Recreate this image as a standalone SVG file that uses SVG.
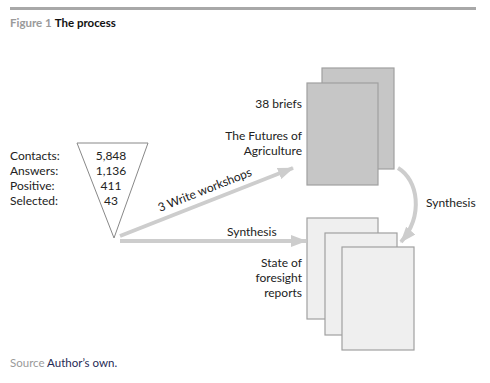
<svg xmlns="http://www.w3.org/2000/svg" width="490" height="383" viewBox="0 0 490 383">
<style>
text{font-family:Lato,"Open Sans","Liberation Sans",sans-serif;fill:#222;font-size:12px}
.cap{font-size:11.5px}
.gray{fill:#9a9a9a}
.dark{fill:#c6c6c6;stroke:#a0a0a0;stroke-width:1.2}
.light{fill:#efefef;stroke:#a0a0a0;stroke-width:1.2}
.arr{stroke:#cdcdcd;stroke-width:4;fill:none}
</style>
<defs>
<marker id="ah" viewBox="0 0 16 12" refX="15" refY="6" markerWidth="16" markerHeight="12" markerUnits="userSpaceOnUse" orient="auto">
<path d="M0,0L16,6L0,12z" fill="#cdcdcd"/>
</marker>
</defs>
<rect x="10" y="7" width="466" height="3" fill="#a8a8a8"/>
<text class="cap" x="10" y="27"><tspan class="gray" font-weight="bold">Figure 1</tspan> <tspan font-weight="bold" fill="#111">The process</tspan></text>

<g id="funnel">
<polygon points="77,143 148,143 114,238" fill="#fff" stroke="#888" stroke-width="1"/>
<text x="10" y="160">Contacts:</text>
<text x="10" y="175">Answers:</text>
<text x="10" y="190">Positive:</text>
<text x="10" y="205">Selected:</text>
<g text-anchor="middle">
<text x="111" y="160">5,848</text>
<text x="111" y="175">1,136</text>
<text x="111" y="190">411</text>
<text x="111" y="205">43</text>
</g>
</g>

<g id="briefs">
<rect class="dark" x="322" y="68" width="72" height="101"/>
<rect class="dark" x="307" y="83" width="71" height="102"/>
<g text-anchor="end">
<text x="302" y="108">38 briefs</text>
<text x="302" y="140">The Futures of</text>
<text x="302" y="155">Agriculture</text>
</g>
</g>

<g id="reports">
<rect class="light" x="307" y="218" width="71" height="101"/>
<rect class="light" x="325" y="233" width="72" height="102"/>
<rect class="light" x="342" y="247" width="72" height="103"/>
<g text-anchor="end">
<text x="302" y="267">State of</text>
<text x="302" y="282">foresight</text>
<text x="302" y="297">reports</text>
</g>
</g>

<g id="connectors">
<line class="arr" x1="120" y1="236" x2="293" y2="168" marker-end="url(#ah)"/>
<text transform="translate(160,212) rotate(-21.6)">3 Write workshops</text>
<line class="arr" x1="120" y1="241" x2="306" y2="241" marker-end="url(#ah)"/>
<text x="227" y="236">Synthesis</text>
<path class="arr" d="M398,168 C418,180 424,215 401,242" marker-end="url(#ah)"/>
<text x="426" y="207">Synthesis</text>
</g>

<text class="cap" x="10" y="367"><tspan class="gray">Source</tspan> <tspan fill="#1f2a55">Author’s own.</tspan></text>
</svg>
